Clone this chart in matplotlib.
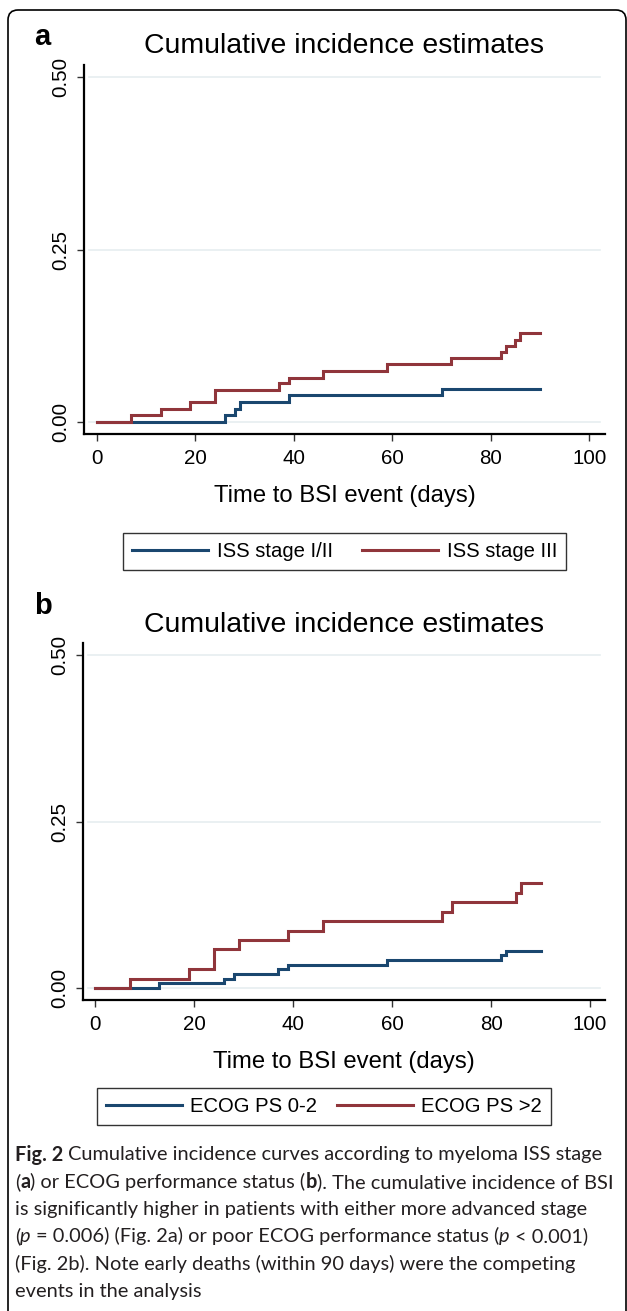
import matplotlib
matplotlib.use("Agg")
import matplotlib.pyplot as plt
from matplotlib.patches import FancyBboxPatch
from matplotlib.lines import Line2D
from matplotlib.transforms import IdentityTransform

# ---------------- data ----------------
title_text = "Cumulative incidence estimates"
xlabel_text = "Time to BSI event (days)"
xticks = [0, 20, 40, 60, 80, 100]
yticks = [0.0, 0.25, 0.5]
ytick_labels = ["0.00", "0.25", "0.50"]

# panel a: ISS stage
a_labels = ["ISS stage I/II", "ISS stage III"]
a_low_t = [0, 26, 28, 29, 39, 70, 90]
a_low_y = [0.0, 0.010, 0.019, 0.029, 0.038, 0.047, 0.047]
a_high_t = [0, 7, 13, 19, 24, 37, 39, 46, 59, 72, 82, 83, 85, 86, 90]
a_high_y = [0.0, 0.010, 0.019, 0.028, 0.046, 0.056, 0.064, 0.074, 0.083,
            0.092, 0.101, 0.110, 0.119, 0.128, 0.128]

# panel b: ECOG PS
b_labels = ["ECOG PS 0-2", "ECOG PS >2"]
b_low_t = [0, 13, 26, 28, 37, 39, 59, 82, 83, 90]
b_low_y = [0.0, 0.0075, 0.014, 0.021, 0.029, 0.035, 0.042, 0.049, 0.056, 0.056]
b_high_t = [0, 7, 19, 24, 29, 39, 46, 70, 72, 85, 86, 90]
b_high_y = [0.0, 0.014, 0.029, 0.058, 0.072, 0.086, 0.100, 0.114, 0.129,
            0.143, 0.157, 0.157]

caption_lines = [
    [("Fig. 2", "bold", "normal"), (" Cumulative incidence curves according to myeloma ISS stage", "normal", "normal")],
    [("(", "normal", "normal"), ("a", "bold", "normal"), (") or ECOG performance status (", "normal", "normal"),
     ("b", "bold", "normal"), ("). The cumulative incidence of BSI", "normal", "normal")],
    [("is significantly higher in patients with either more advanced stage", "normal", "normal")],
    [("(", "normal", "normal"), ("p", "normal", "italic"), (" = 0.006) (Fig. 2a) or poor ECOG performance status (", "normal", "normal"),
     ("p", "normal", "italic"), (" < 0.001)", "normal", "normal")],
    [("(Fig. 2b). Note early deaths (within 90 days) were the competing", "normal", "normal")],
    [("events in the analysis", "normal", "normal")],
]

# ---------------- style ----------------
W, H = 627, 1311
BLUE = "#1a476f"
RED = "#90353b"
GRID = "#e6eef0"
FONT = "Liberation Sans"
plt.rcParams["font.family"] = [FONT, "DejaVu Sans"]

fig = plt.figure(figsize=(W / 100, H / 100), dpi=100)
fig.patch.set_facecolor("white")


def fx(px):
    return px / W


def fy(py):
    return 1 - py / H


def make_axes(left, right, top, bottom, ylo, yhi, xlo, xhi):
    ax = fig.add_axes([fx(left), fy(bottom), fx(right - left), (bottom - top) / H])
    ax.set_xlim(xlo, xhi)
    ax.set_ylim(ylo, yhi)
    for s in ("top", "right"):
        ax.spines[s].set_visible(False)
    for s in ("left", "bottom"):
        ax.spines[s].set_linewidth(1.6)
        ax.spines[s].set_color("black")
    ax.set_xticks(xticks)
    ax.set_xticklabels([str(v) for v in xticks], fontsize=14.8)
    ax.set_yticks(yticks)
    ax.set_yticklabels(ytick_labels, fontsize=14.8, rotation=90, va="center")
    ax.tick_params(axis="both", direction="out", length=5, width=1.0, color="#333333")
    ax.tick_params(axis="x", pad=6)
    ax.tick_params(axis="y", pad=5)
    for yv in yticks:
        ax.axhline(yv, xmin=0.01, xmax=0.99, color=GRID, lw=1.2, zorder=0)
    return ax


def panel(ax, low_t, low_y, high_t, high_y, labels):
    ax.step(low_t, low_y, where="post", color=BLUE, lw=2.2, zorder=3,
            solid_joinstyle="miter", label=labels[0])
    ax.step(high_t, high_y, where="post", color=RED, lw=2.2, zorder=3,
            solid_joinstyle="miter", label=labels[1])
    ax.set_xlabel(xlabel_text, fontsize=17.2, labelpad=12)


# panel a
axa = make_axes(84, 605, 65, 434, -0.018, 0.518, -2.6, 103.2)
panel(axa, a_low_t, a_low_y, a_high_t, a_high_y, a_labels)
fig.text(fx(344), fy(46), title_text, fontsize=20.4, ha="center", va="center")
fig.text(fx(34), fy(37), "a", fontsize=21, fontweight="bold", ha="left", va="center")

# panel b
axb = make_axes(83, 605, 643, 1000, -0.018, 0.518, -2.45, 103.0)
panel(axb, b_low_t, b_low_y, b_high_t, b_high_y, b_labels)
fig.text(fx(344), fy(625), title_text, fontsize=20.4, ha="center", va="center")
fig.text(fx(34), fy(606), "b", fontsize=21, fontweight="bold", ha="left", va="center")


def add_legend(ax, cx, cy, colsp, tpad):
    handles = [Line2D([], [], color=BLUE, lw=2.2), Line2D([], [], color=RED, lw=2.2)]
    leg = ax.legend(handles, [h for h in ax.get_legend_handles_labels()[1]],
                    loc="center", bbox_to_anchor=(fx(cx), fy(cy)),
                    bbox_transform=fig.transFigure, ncol=2, frameon=True,
                    fancybox=False, edgecolor="black", fontsize=14.6,
                    handlelength=3.75, handletextpad=tpad, columnspacing=colsp,
                    borderpad=0.45, borderaxespad=0)
    leg.get_frame().set_linewidth(1.0)
    return leg


add_legend(axa, 344.5, 551.7, 1.43, 0.45)
add_legend(axb, 324, 1106.5, 1.0, 0.4)

# outer rounded frame
frame = FancyBboxPatch((8, -20), 618, 1311 - 10 + 20, boxstyle="round,pad=0,rounding_size=10",
                       transform=IdentityTransform(), fill=False, edgecolor="black", lw=1.2)
fig.add_artist(frame)

# caption with mixed styles
CAP_FONT = ["Lato", "DejaVu Sans"]
renderer = fig.canvas.get_renderer()


def measure(s, size, weight, style):
    t = fig.text(0, 0, s, fontsize=size, fontweight=weight, fontstyle=style, family=CAP_FONT)
    w = t.get_window_extent(renderer).width
    t.remove()
    return w


def line_width(runs, size):
    sp = measure("a a", size, "normal", "normal") - measure("aa", size, "normal", "normal")
    total = 0
    for s, wgt, sty in runs:
        lead = len(s) - len(s.lstrip(" "))
        trail = len(s) - len(s.rstrip(" "))
        core = s.strip(" ")
        total += (lead + trail) * sp
        if core:
            total += measure(core, size, wgt, sty)
    return total


base = 12.0
wmax = max(line_width(r, base) for r in caption_lines)
cap_size = base * (597.0 / wmax)

y0 = 1153
dy = 27.3
sp = measure("a a", cap_size, "normal", "normal") - measure("aa", cap_size, "normal", "normal")
for i, runs in enumerate(caption_lines):
    x = 15.0
    yy = y0 + i * dy
    for s, wgt, sty in runs:
        lead = len(s) - len(s.lstrip(" "))
        trail = len(s) - len(s.rstrip(" "))
        core = s.strip(" ")
        x += lead * sp
        if core:
            t = fig.text(fx(x), fy(yy), core, fontsize=cap_size, fontweight=wgt,
                         fontstyle=sty, family=CAP_FONT, ha="left", va="center_baseline",
                         color="#231f20")
            x += t.get_window_extent(renderer).width
        x += trail * sp

fig.savefig("out.png", dpi=100, facecolor="white")
